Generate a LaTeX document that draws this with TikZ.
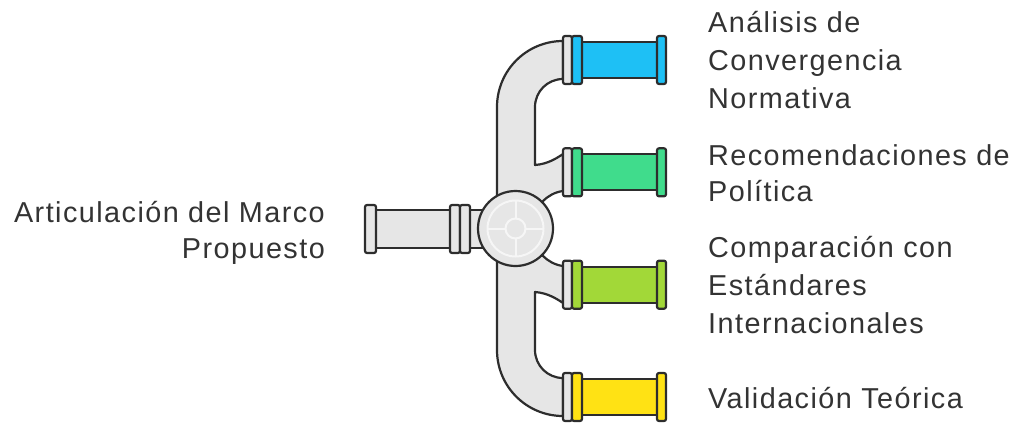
\documentclass[tikz,border=0pt]{standalone}
\usepackage{fontspec}
\setmainfont{Liberation Sans}[LetterSpace=5]
\definecolor{pipegray}{HTML}{E6E6E6}
\definecolor{edge}{HTML}{2D2D2D}
\definecolor{ringc}{HTML}{F6F6F6}
\definecolor{ink}{HTML}{333333}
\definecolor{cblue}{HTML}{1EC0F5}
\definecolor{cgreen}{HTML}{40DC8C}
\definecolor{clime}{HTML}{A2D838}
\definecolor{cyellow}{HTML}{FFE214}
\tikzset{
  pipe/.style={fill=pipegray, draw=edge, line width=2.2bp, line join=round},
  flange/.style={pipe, rounded corners=2bp},
  ring/.style={draw=ringc, line width=2bp},
  lbl/.style={inner sep=0pt, text=ink, font=\fontsize{28.8bp}{34bp}\selectfont},
  lblR/.style={lbl, anchor=base west},
  lblL/.style={lbl, anchor=base east}
}
\begin{document}
\begin{tikzpicture}[x=1bp,y=-1bp]
\useasboundingbox (0,0) rectangle (1013,425);

% manifold body: vertical run with two elbows and two side outlets
\draw[pipe] (563,41) .. controls (526.5,41) and (497,70.5) .. (497,107)
  -- (497,350) .. controls (497,386.5) and (526.5,416) .. (563,416)
  -- (563,378) .. controls (547.5,378) and (535,365.5) .. (535,350)
  -- (535,292) .. controls (548,293) and (557,299) .. (563,303)
  -- (563,266) .. controls (555,265) and (548,261) .. (543,256)
  -- (543,201) .. controls (548,196) and (555,192) .. (563,191)
  -- (563,154) .. controls (557,158) and (548,164) .. (535,165)
  -- (535,107) .. controls (535,91.5) and (547.5,79) .. (563,79)
  -- cycle;

% inlet pipe on the left
\draw[pipe] (376,210) rectangle (490,248);
\draw[flange] (365,205) rectangle (376,253);
\draw[flange] (450,205) rectangle (460,253);
\draw[flange] (460,205) rectangle (470,253);

% central valve
\draw[pipe] (515.5,228.5) circle[radius=37.5];
\draw[ring] (515.5,228.5) circle[radius=28];
\draw[ring] (515.5,228.5) circle[radius=10];
\draw[ring] (505.5,228.5) -- (487.5,228.5);
\draw[ring] (525.5,228.5) -- (543.5,228.5);
\draw[ring] (515.5,218.5) -- (515.5,200.5);
\draw[ring] (515.5,238.5) -- (515.5,256.5);

% coloured outlet pipes
\foreach \c/\col in {60/cblue, 172.3/cgreen, 284.7/clime, 397/cyellow} {
  \draw[pipe, fill=\col] (582,\c-18) rectangle (657,\c+18);
  \draw[flange] (563,\c-24) rectangle (572,\c+24);
  \draw[flange, fill=\col] (572,\c-24) rectangle (582,\c+24);
  \draw[flange, fill=\col] (657,\c-24) rectangle (666,\c+24);
}

% labels
\node[lblL] (in1) at (325,222) {Articulación del Marco};
\node[lblL] (in2) at (325,258) {Propuesto};

\node[lblR] (a1) at (708,32) {Análisis de};
\node[lblR] (a2) at (708,70) {Convergencia};
\node[lblR] (a3) at (708,108) {Normativa};

\node[lblR] (b1) at (708,165) {Recomendaciones de};
\node[lblR] (b2) at (708,201) {Política};

\node[lblR] (c1) at (708,257) {Comparación con};
\node[lblR] (c2) at (708,295) {Estándares};
\node[lblR] (c3) at (708,333) {Internacionales};

\node[lblR] (d1) at (708,408) {Validación Teórica};
\end{tikzpicture}
\end{document}
